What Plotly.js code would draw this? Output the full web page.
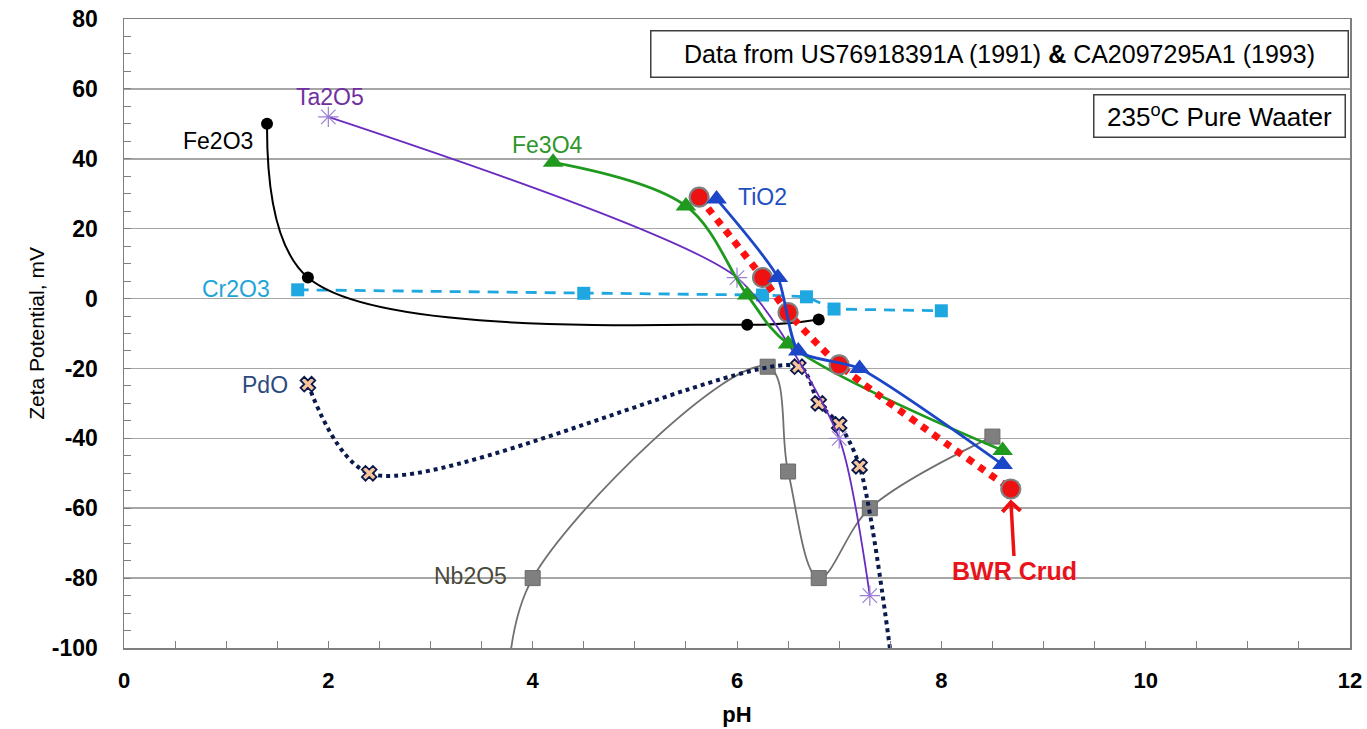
<!DOCTYPE html>
<html>
<head>
<meta charset="utf-8">
<script src="https://cdn.plot.ly/plotly-3.0.1.min.js"></script>
<style>html,body{margin:0;padding:0;background:#fff;}#chart{width:1367px;height:729px;}</style>
</head>
<body>
<div id="chart"></div>
<script>
// ---- Data (pH vs zeta potential, mV) ----
const fe2o3_pH   = [1.4, 1.8, 6.1, 6.8];
const fe2o3_zeta = [50, 6, -7.5, -6];

const ta2o5_pH   = [2.0, 6.0, 7.0, 7.3];
const ta2o5_zeta = [52, 6, -40, -85];

const fe3o4_pH   = [4.2, 5.5, 6.1, 6.5, 8.6];
const fe3o4_zeta = [39, 26.5, 1, -13, -43.5];

const tio2_pH    = [5.8, 6.4, 6.6, 7.2, 8.6];
const tio2_zeta  = [28.5, 6, -15, -20, -47.5];

const bwr_pH     = [5.63, 6.25, 6.5, 7.0, 8.68];
const bwr_zeta   = [29, 6, -4, -19, -54.5];

const cr2o3_pH   = [1.7, 4.5, 6.25, 6.68, 6.95, 8.0];
const cr2o3_zeta = [2.5, 1.5, 1, 0.5, -3, -3.5];

const pdo_pH     = [1.8, 2.4, 6.6, 6.8, 7.0, 7.2, 7.55];
const pdo_zeta   = [-24.5, -50, -19.5, -30, -36, -48, -112];

const nb2o5_pH   = [3.75, 4.0, 6.3, 6.5, 6.8, 7.3, 8.5];
const nb2o5_zeta = [-118, -80, -19.5, -49.5, -80, -60, -39.5];

const xTickVals  = [0, 2, 4, 6, 8, 10, 12];
const yTickVals  = [-100, -80, -60, -40, -20, 0, 20, 40, 60, 80];

const FONT = 'Liberation Sans, Arial, sans-serif';

const traces = [
  { name: 'Cr2O3', x: cr2o3_pH, y: cr2o3_zeta, mode: 'lines+markers',
    line: {color: '#1ea7e1', width: 2.8, dash: '11px,8px'},
    marker: {symbol: 'square', size: 13, color: '#1ea7e1'} },
  { name: 'Nb2O5', x: nb2o5_pH, y: nb2o5_zeta, mode: 'lines+markers',
    line: {color: '#707070', width: 1.8, shape: 'spline', smoothing: 1},
    marker: {symbol: 'square', size: 15, color: '#7f7f7f', line: {color: '#6a6a6a', width: 1}} },
  { name: 'PdO', x: pdo_pH, y: pdo_zeta, mode: 'lines+markers',
    line: {color: '#0b1a4d', width: 4, dash: 'dot', shape: 'spline', smoothing: 0.85},
    marker: {symbol: 'x', size: 13, color: '#f8c59b', line: {color: '#0b1a4d', width: 1.8}} },
  { name: 'Fe2O3', x: fe2o3_pH, y: fe2o3_zeta, mode: 'lines+markers',
    line: {color: '#000000', width: 2, shape: 'spline', smoothing: 1},
    marker: {symbol: 'circle', size: 12, color: '#000000'} },
  { name: 'Ta2O5', x: ta2o5_pH, y: ta2o5_zeta, mode: 'lines+markers',
    line: {color: '#6a2cc0', width: 1.8, shape: 'spline', smoothing: 0.6},
    marker: {symbol: 'asterisk-open', size: 17, color: '#9a7fd4', line: {color: '#9a7fd4', width: 1.2}} },
  { name: 'Fe3O4', x: fe3o4_pH, y: fe3o4_zeta, mode: 'lines+markers',
    line: {color: '#1f9a1f', width: 2.8, shape: 'spline', smoothing: 1},
    marker: {symbol: 'triangle-up', size: 18, color: '#1f9a1f'} },
  { name: 'BWR Crud', x: bwr_pH, y: bwr_zeta, mode: 'lines+markers',
    line: {color: '#ff1010', width: 7, dash: 'dot', shape: 'spline', smoothing: 0.6},
    marker: {symbol: 'circle', size: 19, color: '#ee1111', line: {color: '#7f7f7f', width: 2.2}} },
  { name: 'TiO2', x: tio2_pH, y: tio2_zeta, mode: 'lines+markers',
    line: {color: '#1c46c8', width: 2.8, shape: 'spline', smoothing: 0.6},
    marker: {symbol: 'triangle-up', size: 18, color: '#1c46c8'} }
];

function lab(text, x, y, color, size, bold) {
  return {text: bold ? '<b>' + text + '</b>' : text, x: x, y: y, xref: 'x', yref: 'y',
          showarrow: false, font: {family: FONT, size: size, color: color}};
}

const annotations = [
  lab('Fe2O3', 0.92, 45.2, '#000000', 23),
  lab('Ta2O5', 2.02, 57.8, '#7030a0', 23),
  lab('Fe3O4', 4.15, 44, '#2e962a', 23),
  {text: 'TiO2', x: 5.99, y: 29.2, xref: 'x', yref: 'y', xanchor: 'left', showarrow: false,
   font: {family: FONT, size: 23, color: '#1f4fbf'}},
  lab('Cr2O3', 1.1, 2.6, '#1ea5d8', 23),
  lab('PdO', 1.38, -24.6, '#2c4a80', 23),
  lab('Nb2O5', 3.39, -79.3, '#4a4a3c', 23),
  {text: '<b>BWR Crud</b>', x: 8.68, y: -57.5, xref: 'x', yref: 'y', showarrow: true,
   ax: 4, ay: 72, arrowhead: 4, arrowsize: 1, arrowwidth: 3.5, arrowcolor: '#ee1111',
   font: {family: FONT, size: 25, color: '#e8141c'}},
  {text: 'Data from US76918391A (1991) <b>&amp;</b> CA2097295A1 (1993)', xref: 'paper', yref: 'paper',
   x: 0.9995, y: 0.944, xanchor: 'right', yanchor: 'middle', showarrow: false,
   width: 688, height: 37, align: 'center', bgcolor: '#ffffff', bordercolor: '#404040', borderwidth: 1.5, borderpad: 4,
   font: {family: FONT, size: 25, color: '#000000'}},
  {text: '235<sup>o</sup>C Pure Waater', xref: 'paper', yref: 'paper',
   x: 0.9967, y: 0.8458, xanchor: 'right', yanchor: 'middle', showarrow: false,
   width: 242, height: 33, align: 'center', bgcolor: '#ffffff', bordercolor: '#404040', borderwidth: 1.5, borderpad: 4,
   font: {family: FONT, size: 26, color: '#000000'}}
];

const layout = {
  width: 1367, height: 729,
  margin: {l: 124, r: 17, t: 19, b: 81, pad: 0},
  paper_bgcolor: '#ffffff', plot_bgcolor: '#ffffff',
  showlegend: false,
  font: {family: FONT, color: '#000000'},
  xaxis: {
    range: [0, 12], tickvals: xTickVals, ticktext: xTickVals.map(String),
    showgrid: false, zeroline: false,
    showline: true, mirror: true, linecolor: '#7f7f7f', linewidth: 1.5,
    ticks: 'inside', ticklen: 7, tickcolor: '#7f7f7f', tickwidth: 1,
    minor: {dtick: 0.5, tick0: 0, ticks: 'inside', ticklen: 7, tickcolor: '#7f7f7f', showgrid: false},
    tickfont: {family: FONT, size: 22, color: '#000000', weight: 'bold'},
    ticklabelstandoff: 12,
    title: {text: '<b>pH</b>', font: {family: FONT, size: 22, color: '#000000'}, standoff: 14}
  },
  yaxis: {
    range: [-100, 80], tickvals: yTickVals, ticktext: yTickVals.map(v => v < 0 ? '-' + Math.abs(v) : String(v)),
    showgrid: true, gridcolor: '#a6a6a6', gridwidth: 1.5, zeroline: false,
    showline: true, mirror: true, linecolor: '#7f7f7f', linewidth: 1.5,
    ticks: 'inside', ticklen: 7, tickcolor: '#7f7f7f', tickwidth: 1,
    minor: {dtick: 5, tick0: 0, ticks: 'inside', ticklen: 7, tickcolor: '#7f7f7f', showgrid: false},
    tickfont: {family: FONT, size: 23, color: '#000000', weight: 'bold'},
    ticklabelstandoff: 20,
    title: {text: 'Zeta Potential, mV', font: {family: FONT, size: 21, color: '#000000'}, standoff: 1}
  },
  annotations: annotations
};

Plotly.newPlot('chart', traces, layout, {displayModeBar: false, staticPlot: true});
</script>
</body>
</html>
